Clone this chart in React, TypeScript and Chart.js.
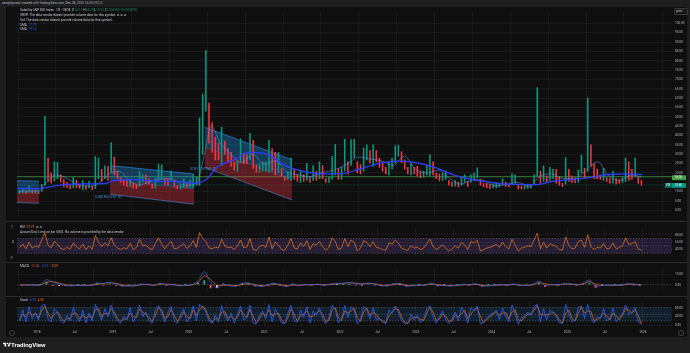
import React, { useEffect, useRef } from "react";
import { Chart, registerables } from "chart.js";
Chart.register(...registerables);

// ---------- time frame ----------
const FIRST_PERIOD = 2017.75; // Oct 2017, semi-monthly periods
const X_MIN = 2017.736;
const X_MAX = 2026.383;
const timeTickLabels = ["2018", "Jul", "2019", "Jul", "2020", "Jul", "2021", "Jul", "2022", "Jul", "2023", "Jul", "2024", "Jul", "2025", "Jul", "2026"];

// ---------- VIX (semi-monthly high / low) ----------
const vixLow = [
  9.2, 9.4, 9.1, 9.6, 9.2, 9.2,
  9.0, 10.2, 13.5, 15.5, 14.6, 15.8, 17.0, 15.2, 12.6, 12.3, 11.6, 12.0, 12.1, 11.8, 10.9, 11.2, 12.0, 11.1, 11.6, 17.0, 15.5, 17.0, 16.0, 20.5,
  19.0, 16.9, 14.9, 13.5, 12.8, 12.5, 11.9, 11.6, 13.0, 15.2, 14.5, 14.0, 11.7, 11.7, 16.0, 16.5, 13.8, 13.5, 16.0, 12.5, 11.5, 11.5, 12.2, 12.0,
  12.1, 12.2, 13.5, 13.4, 30.0, 53.0, 36.0, 31.0, 27.0, 27.0, 24.0, 30.0, 26.0, 23.5, 21.5, 21.0, 26.0, 25.0, 25.0, 27.0, 22.5, 20.5, 20.5, 21.0,
  21.0, 20.5, 21.0, 19.0, 20.0, 18.0, 16.0, 16.5, 16.0, 16.5, 15.5, 15.0, 15.5, 16.0, 15.0, 16.0, 16.0, 17.0, 17.0, 15.0, 15.0, 16.5, 19.0, 16.5,
  16.5, 21.0, 19.5, 24.0, 28.0, 20.0, 19.5, 21.0, 27.0, 25.5, 23.5, 26.0, 23.0, 21.0, 19.5, 19.0, 22.0, 25.5, 29.0, 25.5, 22.0, 19.5, 19.0, 19.5,
  18.5, 17.5, 17.9, 19.0, 18.5, 19.0, 17.0, 15.8, 16.0, 16.5, 13.5, 12.8, 13.0, 12.7, 13.5, 15.0, 12.8, 15.0, 16.0, 17.5, 13.5, 12.5, 12.0, 11.8,
  12.0, 12.0, 12.5, 13.5, 12.8, 12.5, 14.0, 14.5, 11.5, 11.5, 11.5, 11.8, 11.9, 14.0, 18.0, 14.5, 15.5, 14.8, 16.0, 17.0, 14.5, 13.5, 12.7, 14.0,
  15.5, 14.8, 14.8, 15.0, 20.0, 17.5, 21.0, 23.5, 17.0, 17.0, 16.5, 16.0, 15.5, 14.5, 14.5, 14.2, 14.5, 15.0, 15.5, 16.0, 16.5, 18.0, 14.5, 13.5,
];
const vixHigh = [
  10.5, 11.3, 10.5, 13.1, 10.9, 11.0,
  10.6, 14.0, 50.3, 28.0, 20.0, 26.0, 25.7, 19.0, 16.5, 15.0, 13.5, 17.6, 16.1, 14.0, 16.0, 13.3, 15.6, 12.9, 28.8, 28.0, 21.9, 23.8, 23.6, 36.2,
  28.5, 20.8, 17.6, 16.4, 16.2, 17.0, 14.5, 13.5, 21.0, 19.0, 19.0, 17.0, 14.2, 17.0, 24.8, 24.3, 17.0, 17.0, 21.0, 16.0, 13.4, 13.8, 17.0, 14.5,
  16.4, 19.0, 18.0, 49.5, 62.1, 85.5, 57.3, 47.0, 39.0, 36.0, 44.4, 37.0, 33.0, 31.0, 26.0, 26.5, 38.3, 30.5, 30.0, 41.2, 37.5, 24.5, 25.0, 26.0,
  26.0, 37.5, 33.0, 31.0, 31.0, 22.5, 18.0, 20.5, 28.0, 22.0, 19.0, 21.0, 19.0, 25.0, 18.0, 24.0, 21.0, 26.0, 24.0, 17.0, 18.0, 28.9, 35.3, 22.5,
  23.0, 38.0, 26.0, 37.8, 38.0, 26.0, 24.5, 33.5, 35.0, 32.0, 35.0, 32.0, 28.0, 25.5, 23.0, 26.0, 28.0, 34.5, 34.9, 31.5, 27.0, 23.0, 25.0, 23.0,
  23.5, 21.0, 21.0, 24.0, 29.9, 26.0, 20.0, 19.5, 20.0, 21.0, 16.0, 15.0, 16.0, 15.0, 18.0, 19.0, 15.5, 19.0, 20.0, 22.7, 16.5, 14.5, 14.5, 14.0,
  14.3, 15.0, 14.5, 17.0, 15.0, 14.0, 19.5, 19.0, 14.0, 13.0, 13.5, 13.5, 14.0, 19.0, 65.7, 21.0, 23.8, 18.5, 23.0, 22.0, 22.0, 18.0, 14.5, 28.3,
  22.0, 18.5, 17.5, 21.5, 29.6, 22.5, 60.1, 35.0, 25.0, 22.0, 19.0, 22.5, 17.5, 17.0, 21.0, 17.0, 16.5, 17.5, 28.0, 26.0, 22.0, 28.0, 18.0, 16.0,
];
const symbolName = "VIX";
const lastPrice = 13.6;
const levelValue = 18;
const priceTicks = [0, 5, 10, 20, 25, 30, 35, 40, 45, 50, 55, 60, 65, 70, 75, 80, 85, 90, 95, 100];

// ---------- moving averages ----------
const smaLongX = [2017.75, 2018.0, 2018.3, 2018.6, 2018.9, 2019.0, 2019.3, 2019.6, 2019.9, 2020.1, 2020.25, 2020.37, 2020.6, 2020.8, 2021.0, 2021.3, 2021.5, 2021.75, 2022.0, 2022.25, 2022.5, 2022.8, 2023.0, 2023.25, 2023.5, 2023.75, 2024.0, 2024.25, 2024.6, 2024.8, 2025.0, 2025.3, 2025.55, 2025.8, 2025.99];
const smaLongY = [11.8, 11.6, 13.5, 14.2, 14.3, 15.8, 16.5, 15.6, 15.3, 14.5, 17.0, 23.0, 27.0, 31.0, 30.5, 23.5, 21.0, 19.5, 19.5, 22.0, 25.0, 26.5, 25.5, 23.0, 19.0, 16.5, 15.0, 14.0, 13.8, 15.5, 16.3, 17.5, 19.2, 19.5, 19.14];
const smaShortX = [2017.75, 2018.0, 2018.12, 2018.25, 2018.4, 2018.55, 2018.7, 2018.82, 2018.95, 2019.08, 2019.22, 2019.35, 2019.5, 2019.65, 2019.8, 2019.95, 2020.1, 2020.2, 2020.3, 2020.42, 2020.55, 2020.7, 2020.85, 2021.0, 2021.15, 2021.3, 2021.45, 2021.6, 2021.75, 2021.95, 2022.1, 2022.25, 2022.4, 2022.55, 2022.7, 2022.85, 2023.0, 2023.15, 2023.3, 2023.45, 2023.6, 2023.75, 2023.9, 2024.05, 2024.2, 2024.35, 2024.5, 2024.65, 2024.8, 2024.95, 2025.1, 2025.25, 2025.4, 2025.55, 2025.7, 2025.85, 2025.99];
const smaShortY = [10.3, 10.3, 14.5, 19.0, 17.0, 13.5, 13.0, 14.5, 19.5, 21.0, 16.0, 13.5, 15.5, 17.0, 16.5, 13.5, 14.5, 28.0, 45.0, 36.0, 30.5, 25.5, 30.0, 24.5, 26.5, 20.5, 19.0, 18.0, 20.0, 22.0, 25.0, 28.5, 27.5, 26.5, 24.0, 29.0, 22.0, 20.0, 21.5, 17.0, 14.0, 16.5, 16.0, 13.2, 14.0, 15.0, 12.9, 18.5, 19.5, 17.0, 17.0, 21.5, 26.0, 18.5, 16.0, 19.0, 17.75];

// ---------- regression channels (time, price) ----------
const channelStart = [2017.736, 2018.964, 2020.218];
const channelEnd = [2018.026, 2020.073, 2021.366];
const channelUpper = [[15.9, 15.6], [24.0, 19.4], [44.4, 27.0]];
const channelMid = [[9.4, 9.2], [16.3, 11.2], [33.7, 16.3]];
const channelLower = [[4.2, 3.8], [8.7, 3.3], [23.0, 5.6]];

// ---------- RSI (semi-monthly) ----------
const rsiValues = [
  45, 55, 42, 60, 44, 50,
  46, 66, 85, 52, 45, 62, 55, 43, 40, 46, 41, 58, 47, 42, 55, 40, 50, 41, 78, 60, 48, 58, 50, 72,
  52, 44, 40, 45, 42, 57, 40, 46, 68, 50, 52, 44, 40, 56, 72, 55, 42, 54, 62, 42, 44, 50, 56, 43,
  50, 64, 46, 86, 70, 62, 45, 42, 47, 44, 68, 50, 45, 47, 40, 50, 66, 45, 47, 70, 40, 38, 48, 52,
  46, 74, 42, 60, 52, 40, 38, 52, 70, 44, 42, 58, 48, 64, 40, 56, 52, 62, 48, 38, 46, 72, 62, 40,
  44, 70, 48, 66, 60, 36, 45, 64, 60, 48, 62, 46, 44, 40, 38, 58, 55, 66, 58, 44, 40, 38, 50, 44,
  46, 40, 44, 56, 68, 48, 40, 46, 52, 44, 36, 42, 50, 44, 60, 52, 40, 62, 58, 65, 36, 40, 44, 46,
  50, 54, 46, 60, 48, 42, 68, 52, 36, 44, 46, 50, 48, 66, 84, 42, 60, 44, 56, 52, 48, 40, 38, 74,
  52, 42, 44, 62, 66, 46, 80, 48, 40, 46, 44, 56, 42, 44, 58, 42, 46, 50, 72, 54, 56, 62, 42, 37.79,
];
const rsiBand = [70, 30];
const rsiLines = [70, 50, 30];
const rsiTicks = [40, 60, 80];

// ---------- MACD (monthly) ----------
const macdLine = [
  -0.3, -0.2, -0.2,
  -0.1, 4.8, 2.2, 1.0, -0.8, -0.9, -0.5, -0.6, -0.7, 1.8, 1.0, 2.4,
  0.8, -1.2, -1.0, -1.0, 0.6, 0.3, -0.8, 1.5, 0.0, 0.2, -1.0, -0.6,
  0.2, 4.0, 12.5, 2.0, -3.0, 0.5, -0.8, -1.5, 1.5, 1.8, -0.8, -1.5,
  -0.2, 1.5, -0.2, -1.8, 0.5, -0.8, 0.4, -0.2, 0.6, -0.6, 0.8, 1.2,
  1.5, 2.2, 1.2, 0.8, 1.8, 0.6, -1.0, -1.0, 1.2, 1.0, -1.5, -0.8,
  -0.5, -0.2, 1.5, -0.8, -0.6, -1.2, -0.4, 0.4, -0.1, 1.0, -1.4, -0.8,
  -0.3, 0.1, -0.3, 0.8, -0.8, -0.5, 0.3, 3.5, -0.8, 0.5, -0.3, 1.2,
  0.8, -0.2, 1.5, 4.5, -1.8, -0.6, -0.5, -0.3, -0.4, 1.0, 0.5, -0.15,
];
const macdSignal = [
  -0.2, -0.2, -0.2,
  -0.2, 2.5, 3.0, 1.5, 0.0, -0.6, -0.6, -0.6, -0.6, 0.6, 1.2, 1.8,
  1.4, -0.2, -0.8, -1.0, 0.0, 0.3, -0.4, 0.6, 0.6, 0.2, -0.5, -0.7,
  -0.2, 2.0, 8.5, 5.0, -0.5, -0.5, -0.5, -1.0, 0.2, 1.2, 0.3, -1.0,
  -0.6, 0.6, 0.4, -1.0, -0.4, -0.4, 0.0, 0.0, 0.3, 0.0, 0.3, 0.9,
  1.2, 1.8, 1.5, 1.0, 1.3, 1.0, -0.2, -0.8, 0.3, 0.9, -0.4, -0.8,
  -0.6, -0.3, 0.7, 0.2, -0.5, -0.9, -0.7, 0.0, 0.1, 0.5, -0.4, -0.9,
  -0.5, -0.1, -0.2, 0.3, -0.2, -0.5, -0.1, 2.0, 1.0, 0.0, 0.0, 0.6,
  0.8, 0.3, 0.7, 3.0, 0.8, -0.5, -0.5, -0.4, -0.4, 0.4, 0.6, -0.09,
];
const macdTicks = [0, 10];

// ---------- Stochastic (semi-monthly) ----------
const stochK = [
  20, 70, 15, 85, 30, 55,
  25, 90, 95, 30, 15, 75, 60, 20, 10, 45, 20, 80, 40, 15, 70, 10, 55, 20, 95, 60, 25, 75, 40, 92,
  45, 20, 10, 40, 25, 80, 15, 45, 92, 40, 60, 20, 10, 70, 90, 55, 15, 60, 85, 20, 10, 50, 75, 15,
  40, 88, 20, 96, 80, 60, 20, 10, 45, 15, 90, 40, 20, 55, 10, 50, 88, 25, 40, 92, 10, 8, 45, 65,
  30, 94, 15, 75, 45, 10, 8, 55, 90, 20, 15, 70, 35, 85, 10, 65, 45, 80, 30, 8, 35, 92, 70, 12,
  30, 90, 35, 85, 70, 6, 30, 85, 70, 30, 80, 25, 30, 15, 8, 70, 55, 88, 60, 20, 10, 8, 50, 25,
  45, 12, 30, 75, 90, 35, 10, 40, 65, 25, 8, 30, 60, 20, 82, 55, 10, 80, 65, 88, 6, 15, 35, 45,
  55, 70, 25, 80, 40, 15, 92, 50, 5, 35, 40, 60, 45, 85, 96, 15, 75, 25, 70, 55, 40, 12, 8, 94,
  50, 15, 25, 80, 88, 30, 95, 35, 10, 40, 30, 75, 20, 30, 78, 15, 35, 55, 92, 50, 60, 80, 15, 6.76,
];
const stochD = [
  25, 50, 40, 60, 45, 55,
  35, 65, 88, 55, 30, 50, 62, 38, 20, 30, 30, 55, 55, 28, 45, 35, 40, 35, 70, 75, 40, 55, 50, 75,
  60, 32, 18, 28, 30, 55, 40, 35, 75, 60, 50, 35, 18, 45, 80, 70, 30, 40, 72, 45, 18, 35, 62, 40,
  30, 70, 45, 70, 88, 70, 35, 15, 30, 28, 60, 62, 30, 40, 28, 35, 70, 50, 35, 72, 40, 10, 30, 55,
  45, 70, 45, 50, 55, 25, 10, 35, 75, 50, 18, 45, 50, 65, 40, 40, 55, 65, 50, 18, 22, 70, 80, 35,
  22, 65, 55, 65, 78, 35, 18, 60, 78, 45, 58, 50, 28, 22, 12, 42, 62, 75, 72, 38, 15, 10, 30, 38,
  35, 28, 22, 55, 82, 60, 22, 28, 52, 42, 18, 20, 45, 38, 55, 68, 30, 50, 70, 78, 40, 12, 25, 40,
  50, 62, 45, 55, 58, 28, 60, 72, 25, 20, 38, 50, 52, 68, 90, 50, 48, 48, 50, 62, 48, 25, 10, 55,
  70, 32, 20, 55, 82, 55, 65, 62, 22, 25, 35, 55, 45, 25, 55, 45, 25, 45, 75, 70, 55, 70, 45, 4.96,
];
const stochBand = [80, 20];
const stochLines = [80, 50, 20];
const stochTicks = [0, 40, 80];

// ---------- derived x positions ----------
const halfMonthX = vixHigh.map((_, i) => FIRST_PERIOD + (i + 0.5) / 24);
const monthX = macdLine.map((_, j) => FIRST_PERIOD + (j + 0.5) / 12);
const timeTickValues = timeTickLabels.map((_, i) => 2018 + Math.floor(i / 2) + (i % 2 ? 0.496 : 0));

const FONT = "Roboto, 'DejaVu Sans', sans-serif";
Chart.defaults.font.family = FONT;
const AXIS_TXT = "#b2b5be";
const GRID = "rgba(255,255,255,0.045)";
const UP = "#089981";
const DOWN = "#f23645";
const BLUE = "#2962ff";
const ORANGE = "#ff6d00";

function xScale(show: boolean) {
  return {
    type: "linear",
    min: X_MIN,
    max: X_MAX,
    offset: false,
    afterBuildTicks: (s: any) => { s.ticks = timeTickValues.map((v) => ({ value: v })); },
    afterFit: (s: any) => { s.height = show ? 10 : 0; },
    grid: { color: GRID, drawTicks: false, lineWidth: 1 },
    border: { display: false },
    ticks: {
      display: show, autoSkip: false, maxRotation: 0, padding: 3.2, color: AXIS_TXT,
      font: { size: 3.2 },
      callback: (_v: any, i: number) => timeTickLabels[i],
    },
  };
}
function yScale(min: number, max: number, ticks: number[]) {
  return {
    position: "right",
    min, max,
    afterBuildTicks: (s: any) => { s.ticks = ticks.map((v) => ({ value: v })); },
    afterFit: (s: any) => { s.width = 18; },
    grid: { color: GRID, drawTicks: false },
    border: { display: false },
    ticks: { color: AXIS_TXT, padding: 3, font: { size: 3.1 }, callback: (v: any) => Number(v).toFixed(2) },
  };
}
function baseOptions(y: any, showTime: boolean) {
  return {
    responsive: false,
    animation: false,
    devicePixelRatio: 1,
    events: [],
    layout: { padding: { left: 17, right: 0, top: 0, bottom: 0 } },
    plugins: { legend: { display: false }, tooltip: { enabled: false } },
    scales: { x: xScale(showTime), y },
  };
}
function bandPlugin(band: number[], lines: number[], fill: string, dash: string) {
  return {
    id: "band",
    beforeDatasetsDraw(chart: any) {
      const { ctx, chartArea: a, scales } = chart;
      const y = scales.y;
      const y1 = y.getPixelForValue(band[0]);
      const y2 = y.getPixelForValue(band[1]);
      ctx.save();
      ctx.fillStyle = fill;
      ctx.fillRect(a.left, y1, a.right - a.left, y2 - y1);
      ctx.strokeStyle = dash;
      ctx.lineWidth = 0.7;
      ctx.setLineDash([1.2, 1.6]);
      lines.forEach((v) => {
        const py = y.getPixelForValue(v);
        ctx.beginPath(); ctx.moveTo(a.left, py); ctx.lineTo(a.right, py); ctx.stroke();
      });
      ctx.restore();
    },
  };
}
const zeroPlugin = {
  id: "zero",
  beforeDatasetsDraw(chart: any) {
    const { ctx, chartArea: a, scales } = chart;
    const py = scales.y.getPixelForValue(0);
    ctx.save();
    ctx.strokeStyle = "rgba(150,150,160,0.5)"; ctx.lineWidth = 0.6; ctx.setLineDash([1.2, 1.6]);
    ctx.beginPath(); ctx.moveTo(a.left, py); ctx.lineTo(a.right, py); ctx.stroke();
    ctx.restore();
  },
};
const mainPlugin = {
  id: "mainOverlay",
  beforeDatasetsDraw(chart: any) {
    const { ctx, chartArea: a, scales } = chart;
    const y = scales.y;
    ctx.save();
    const gy = y.getPixelForValue(levelValue);
    ctx.strokeStyle = "#43a047"; ctx.lineWidth = 0.8;
    ctx.beginPath(); ctx.moveTo(a.left, gy); ctx.lineTo(a.right, gy); ctx.stroke();
    const py = y.getPixelForValue(lastPrice);
    ctx.setLineDash([1.2, 1.2]); ctx.strokeStyle = "rgba(8,153,129,0.7)"; ctx.lineWidth = 0.6;
    ctx.beginPath(); ctx.moveTo(a.left, py); ctx.lineTo(a.right, py); ctx.stroke();
    ctx.restore();
  },
  afterDraw(chart: any) {
    const { ctx, chartArea: a, scales } = chart;
    const y = scales.y;
    ctx.save();
    ctx.font = "3px " + FONT;
    ctx.textBaseline = "middle";
    const gy = y.getPixelForValue(levelValue) + 1;
    ctx.fillStyle = "#43a047"; ctx.fillRect(a.right, gy - 2.4, 14, 4.8);
    ctx.fillStyle = "#ffffff"; ctx.fillText(levelValue.toFixed(2), a.right + 2.5, gy);
    const py = y.getPixelForValue(lastPrice) + 0.5;
    ctx.fillStyle = "#06705f"; ctx.fillRect(a.right - 7, py - 2.4, 7, 4.8);
    ctx.fillStyle = UP; ctx.fillRect(a.right, py - 2.4, 14, 4.8);
    ctx.fillStyle = "#ffffff";
    ctx.fillText(symbolName, a.right - 6.2, py);
    ctx.fillText(lastPrice.toFixed(2), a.right + 2.5, py);
    ctx.restore();
  },
};

function buildMain() {
  const candleColors = vixHigh.map((h, i) =>
    i === 0 || h + vixLow[i] >= vixHigh[i - 1] + vixLow[i - 1] ? UP : DOWN
  );
  const channelSets: any[] = [];
  channelStart.forEach((x0, k) => {
    const x1 = channelEnd[k];
    const pts = (v: number[]) => [{ x: x0, y: v[0] }, { x: x1, y: v[1] }];
    channelSets.push(
      { type: "line", data: pts(channelUpper[k]), borderColor: "rgba(33,150,243,0.9)", borderWidth: 0.7, pointRadius: 0, fill: "+1", backgroundColor: "rgba(33,150,243,0.33)", order: 10 },
      { type: "line", data: pts(channelMid[k]), borderColor: "rgba(242,54,69,0.6)", borderWidth: 0.5, pointRadius: 0, fill: "+1", backgroundColor: "rgba(242,54,69,0.33)", order: 10 },
      { type: "line", data: pts(channelLower[k]), borderColor: "rgba(33,150,243,0.9)", borderWidth: 0.7, pointRadius: 0, fill: false, order: 10 }
    );
  });
  return {
    type: "line",
    data: {
      datasets: [
        ...channelSets,
        {
          type: "bar",
          data: halfMonthX.map((x, i) => ({ x, y: [vixLow[i], vixHigh[i]] })),
          backgroundColor: candleColors,
          borderWidth: 0,
          barThickness: 0.9,
          order: 3,
        },
        { type: "line", data: smaShortX.map((x, i) => ({ x, y: smaShortY[i] })), borderColor: "rgba(110,150,230,0.85)", borderWidth: 0.6, pointRadius: 0, tension: 0.4, cubicInterpolationMode: "monotone", fill: false, order: 1 },
        { type: "line", data: smaLongX.map((x, i) => ({ x, y: smaLongY[i] })), borderColor: "#2d3cff", borderWidth: 1.3, pointRadius: 0, cubicInterpolationMode: "monotone", fill: false, order: 0 },
      ],
    },
    options: baseOptions(yScale(-3.06, 106.12, priceTicks), false),
    plugins: [mainPlugin],
  };
}
function buildRsi() {
  return {
    type: "line",
    data: { datasets: [{ data: halfMonthX.map((x, i) => ({ x, y: rsiValues[i] })), borderColor: "#f57c1f", borderWidth: 0.7, pointRadius: 0, fill: false }] },
    options: baseOptions(yScale(19.5, 101.5, rsiTicks), false),
    plugins: [bandPlugin(rsiBand, rsiLines, "rgba(126,87,194,0.2)", "rgba(170,150,200,0.55)")],
  };
}
function buildMacd() {
  const hist = macdLine.map((m, i) => m - macdSignal[i]);
  const histColors = hist.map((h, i) => {
    const prev = i > 0 ? hist[i - 1] : 0;
    if (h >= 0) return h >= prev ? "#26a69a" : "#b2dfdb";
    return h <= prev ? "#ff5252" : "#ffcdd2";
  });
  return {
    type: "line",
    data: {
      datasets: [
        { type: "bar", data: monthX.map((x, i) => ({ x, y: hist[i] })), backgroundColor: histColors, barThickness: 1.2, order: 3 },
        { type: "line", data: monthX.map((x, i) => ({ x, y: macdSignal[i] })), borderColor: ORANGE, borderWidth: 0.7, pointRadius: 0, tension: 0.3, order: 1 },
        { type: "line", data: monthX.map((x, i) => ({ x, y: macdLine[i] })), borderColor: BLUE, borderWidth: 0.7, pointRadius: 0, tension: 0.3, order: 0 },
      ],
    },
    options: baseOptions(yScale(-6, 16, macdTicks), false),
    plugins: [zeroPlugin],
  };
}
function buildStoch() {
  return {
    type: "line",
    data: {
      datasets: [
        { data: halfMonthX.map((x, i) => ({ x, y: stochD[i] })), borderColor: ORANGE, borderWidth: 0.7, pointRadius: 0, order: 1 },
        { data: halfMonthX.map((x, i) => ({ x, y: stochK[i] })), borderColor: BLUE, borderWidth: 0.8, pointRadius: 0, order: 0 },
      ],
    },
    options: baseOptions(yScale(-7.6, 106.7, stochTicks), true),
    plugins: [bandPlugin(stochBand, stochLines, "rgba(33,150,243,0.13)", "rgba(140,160,190,0.55)")],
  };
}

function Pane({ top, height, build }: { top: number; height: number; build: () => any }) {
  const ref = useRef<HTMLCanvasElement>(null);
  useEffect(() => {
    const c = new Chart(ref.current as HTMLCanvasElement, build());
    return () => c.destroy();
  }, []);
  return <canvas ref={ref} width={690} height={height} style={{ position: "absolute", left: 0, top, width: 690, height }} />;
}

function T({ x, y, size = 3.2, color = "#c8cad0", weight = 400, children }: any) {
  const k = size / 10;
  return (
    <div style={{ position: "absolute", left: x, top: y - size * 0.6, fontSize: 10, lineHeight: "12px", color, fontWeight: weight, whiteSpace: "nowrap", transform: `scale(${k})`, transformOrigin: "0 0", fontFamily: FONT }}>
      {children}
    </div>
  );
}
const S = ({ c, children }: any) => <span style={{ color: c }}>{children}</span>;

export default function App() {
  return (
    <div style={{ position: "relative", width: 690, height: 353, background: "#1e1e1e", overflow: "hidden" }}>
      <style>{"body{margin:0;background:#1e1e1e}"}</style>
      <div style={{ position: "absolute", left: 6, top: 7, width: 681, height: 330, background: "#0f0f0f" }} />
      <div style={{ position: "absolute", left: 6, top: 221, width: 681, height: 1, background: "#2a2a2a" }} />
      <div style={{ position: "absolute", left: 6, top: 262, width: 681, height: 1, background: "#2a2a2a" }} />
      <div style={{ position: "absolute", left: 6, top: 296, width: 681, height: 1, background: "#2a2a2a" }} />
      <Pane top={7} height={214} build={buildMain} />
      <Pane top={222} height={40} build={buildRsi} />
      <Pane top={263} height={33} build={buildMacd} />
      <Pane top={297} height={40} build={buildStoch} />

      <T x={1.5} y={3.4} color="#b2b5be">aeroplipinest created with TradingView.com, Dec 28, 2025 16:05 UTC-5</T>
      <T x={20} y={10}>
        Volatility S&amp;P 500 Index · 1D · CBOE&nbsp;&nbsp;O<S c={UP}>14.12</S>&nbsp;H<S c={UP}>14.29</S>&nbsp;L<S c={UP}>13.52</S>&nbsp;C<S c={UP}>13.60</S>&nbsp;<S c={UP}>+0.13 (+0.87%)</S>
      </T>
      <T x={20} y={15}>VRVP: The data vendor doesn't provide volume data for this symbol. ⊘ ⊘ ⊘</T>
      <T x={20} y={20}>Vol: The data vendor doesn't provide volume data for this symbol.</T>
      <T x={20} y={24.7}>SMA&nbsp;&nbsp;<S c="#3d5afe">17.75</S></T>
      <T x={20} y={29.3}>SMA&nbsp;&nbsp;<S c="#3d5afe">19.14</S></T>
      <div style={{ position: "absolute", left: 674, top: 8, width: 12, height: 5, border: "0.5px solid #3a3a3a", borderRadius: 1, background: "#161616" }} />
      <T x={676} y={10.6} size={2.8} color="#d1d4dc">point</T>

      <T x={95} y={196.5} size={2.8} color="#4da3f5">0.28(0.59)&nbsp;0.29(1.10)</T>
      <T x={190} y={168.5} size={2.8} color="#4da3f5">0.75(1.17)&nbsp;0.76(1.11)</T>

      <T x={11} y={227}>1</T>
      <T x={11.5} y={242}>0</T>
      <T x={10} y={258}>-1</T>
      <T x={20} y={227}>RSI&nbsp;&nbsp;<S c="#f57c1f">37.79</S>&nbsp;&nbsp;⊘&nbsp;⊘</T>
      <T x={20} y={232}>Accum/Dist: Limit on bar 5002. No volume is provided by the data vendor.</T>
      <T x={20} y={266}>MACD&nbsp;&nbsp;<S c="#ff5252">−0.24</S>&nbsp;&nbsp;<S c={BLUE}>−0.15</S>&nbsp;&nbsp;<S c={ORANGE}>−0.09</S></T>
      <T x={20} y={300}>Stoch&nbsp;&nbsp;<S c={BLUE}>6.76</S>&nbsp;&nbsp;<S c={ORANGE}>4.96</S></T>

      <div style={{ position: "absolute", left: 8.5, top: 330, width: 4, height: 4, borderRadius: 3, border: "0.5px solid #444" }} />
      <div style={{ position: "absolute", left: 678, top: 330, width: 4, height: 4, borderRadius: 3, border: "0.5px solid #444" }} />

      <svg style={{ position: "absolute", left: 3, top: 341.5 }} width="8" height="5.5" viewBox="0 0 36 25">
        <path d="M14 21H7V10H0V3h14v18z M28.5 21h-8l7.5-18h8L28.5 21z" fill="#ffffff" />
        <circle cx="20" cy="7" r="3.6" fill="#ffffff" />
      </svg>
      <T x={11} y={344.6} size={6.2} color="#ffffff" weight={600}>TradingView</T>
    </div>
  );
}
